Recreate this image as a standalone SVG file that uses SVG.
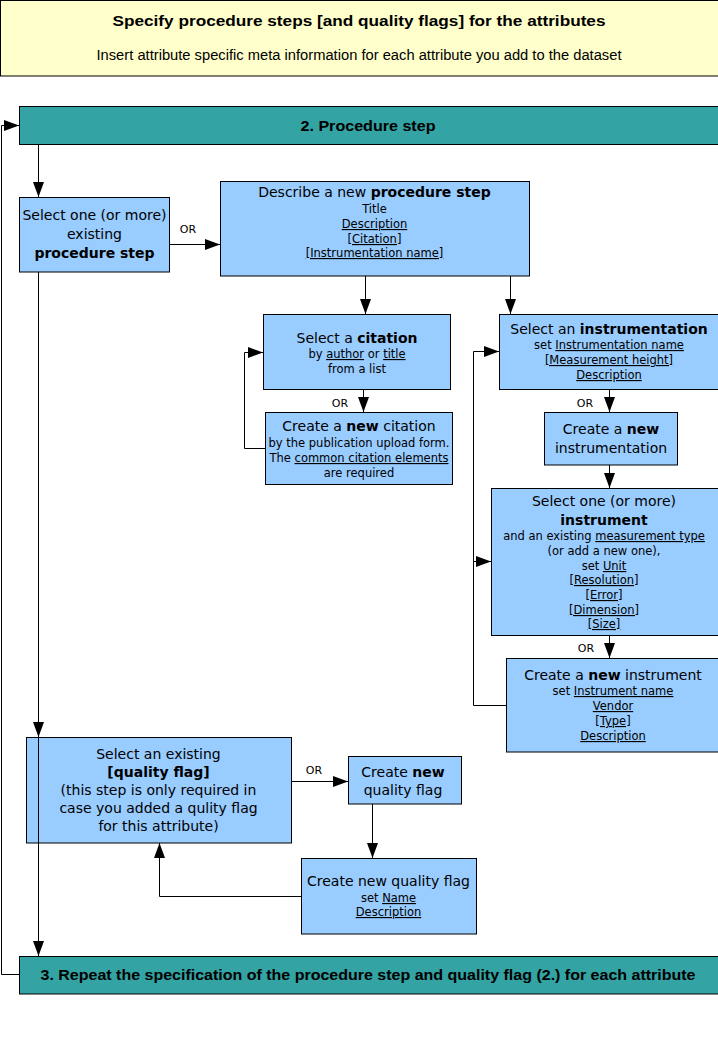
<svg xmlns="http://www.w3.org/2000/svg" width="718" height="1047" viewBox="0 0 718 1047">
<style>
.box{fill:#99ccff;stroke:#000;stroke-width:1}
.bar{fill:#33a3a3;stroke:#000;stroke-width:1}
.hdr{fill:#ffffcc;stroke:#000;stroke-width:1}
text{font-family:"DejaVu Sans",Verdana,sans-serif;fill:#000;text-anchor:middle}
.t{font-size:14px}
.s{font-size:11.5px}
.or{font-size:11px}
.b{font-weight:bold}
.u{text-decoration:underline}
.lib{font-family:"Liberation Sans",Arial,sans-serif}
.con{fill:none;stroke:#000;stroke-width:1}
</style>
<defs>
<marker id="ah" markerUnits="userSpaceOnUse" markerWidth="16" markerHeight="12" refX="15" refY="5.5" orient="auto">
<path d="M0,0 L15,5.5 L0,11 z" fill="#000"/>
</marker>
</defs>
<rect width="718" height="1047" fill="#fff"/>
<g id="header">
<rect class="hdr" x="0.5" y="0.5" width="720" height="75.5"/>
<text class="lib b" x="359" y="26" font-size="15.5" textLength="493" lengthAdjust="spacingAndGlyphs">Specify procedure steps [and quality flags] for the attributes</text>
<text class="lib" x="359" y="60" font-size="14" textLength="525" lengthAdjust="spacingAndGlyphs">Insert attribute specific meta information for each attribute you add to the dataset</text>
</g>
<g id="bar2">
<rect class="bar" x="19.5" y="106.5" width="702" height="38"/>
<text class="lib b" x="368" y="131" font-size="15.5" textLength="135" lengthAdjust="spacingAndGlyphs">2. Procedure step</text>
</g>
<g id="bar3">
<rect class="bar" x="19.5" y="956.5" width="702" height="37.5"/>
<text class="lib b" x="368" y="980" font-size="15.5" textLength="655" lengthAdjust="spacingAndGlyphs">3. Repeat the specification of the procedure step and quality flag (2.) for each attribute</text>
</g>
<g id="select-existing-step">
<rect class="box" x="19.5" y="197.5" width="150" height="74.5"/>
<text class="t" x="94.5" y="220">Select one (or more)</text>
<text class="t" x="94.5" y="239">existing</text>
<text class="t b" x="94.5" y="258">procedure step</text>
</g>
<g id="describe-step">
<rect class="box" x="220.5" y="181.5" width="309" height="94.5"/>
<text class="t" x="374.5" y="197">Describe a new <tspan class="b">procedure step</tspan></text>
<text class="s" x="374.5" y="213">Title</text>
<text class="s" x="374.5" y="228"><tspan class="u">Description</tspan></text>
<text class="s" x="374.5" y="243"><tspan class="u">[Citation]</tspan></text>
<text class="s" x="374.5" y="257"><tspan class="u">[Instrumentation name]</tspan></text>
</g>
<g id="select-citation">
<rect class="box" x="263.5" y="314.5" width="187" height="75"/>
<text class="t" x="357" y="343">Select a <tspan class="b">citation</tspan></text>
<text class="s" x="357" y="358">by <tspan class="u">author</tspan> or <tspan class="u">title</tspan></text>
<text class="s" x="357" y="373">from a list</text>
</g>
<g id="new-citation">
<rect class="box" x="265.5" y="412.5" width="187" height="72"/>
<text class="t" x="359" y="431">Create a <tspan class="b">new</tspan> citation</text>
<text class="s" x="359" y="447">by the publication upload form.</text>
<text class="s" x="359" y="462">The <tspan class="u">common citation elements</tspan></text>
<text class="s" x="359" y="477">are required</text>
</g>
<g id="select-instrumentation">
<rect class="box" x="499.5" y="314.5" width="222" height="75"/>
<text class="t" x="609" y="334">Select an <tspan class="b">instrumentation</tspan></text>
<text class="s" x="609" y="349">set <tspan class="u">Instrumentation name</tspan></text>
<text class="s" x="609" y="364"><tspan class="u">[Measurement height]</tspan></text>
<text class="s" x="609" y="379"><tspan class="u">Description</tspan></text>
</g>
<g id="new-instrumentation">
<rect class="box" x="544.5" y="412.5" width="133" height="52.5"/>
<text class="t" x="611" y="434">Create a <tspan class="b">new</tspan></text>
<text class="t" x="611" y="453">instrumentation</text>
</g>
<g id="select-instrument">
<rect class="box" x="491.5" y="488.5" width="230" height="147"/>
<text class="t" x="604" y="506">Select one (or more)</text>
<text class="t b" x="604" y="525">instrument</text>
<text class="s" x="604" y="540">and an existing <tspan class="u">measurement type</tspan></text>
<text class="s" x="604" y="555">(or add a new one),</text>
<text class="s" x="604" y="570">set <tspan class="u">Unit</tspan></text>
<text class="s" x="604" y="584"><tspan class="u">[Resolution]</tspan></text>
<text class="s" x="604" y="599"><tspan class="u">[Error]</tspan></text>
<text class="s" x="604" y="614"><tspan class="u">[Dimension]</tspan></text>
<text class="s" x="604" y="628"><tspan class="u">[Size]</tspan></text>
</g>
<g id="new-instrument">
<rect class="box" x="506.5" y="658.5" width="215" height="93.5"/>
<text class="t" x="613" y="680">Create a <tspan class="b">new</tspan> instrument</text>
<text class="s" x="613" y="695">set <tspan class="u">Instrument name</tspan></text>
<text class="s" x="613" y="710"><tspan class="u">Vendor</tspan></text>
<text class="s" x="613" y="725"><tspan class="u">[Type]</tspan></text>
<text class="s" x="613" y="740"><tspan class="u">Description</tspan></text>
</g>
<g id="select-quality-flag">
<rect class="box" x="26.5" y="737.5" width="265" height="105.5"/>
<text class="t" x="158.5" y="759">Select an existing</text>
<text class="t b" x="158.5" y="777">[quality flag]</text>
<text class="t" x="158.5" y="795">(this step is only required in</text>
<text class="t" x="158.5" y="813">case you added a qulity flag</text>
<text class="t" x="158.5" y="831">for this attribute)</text>
</g>
<g id="create-quality-flag">
<rect class="box" x="348.5" y="756.5" width="113" height="47.5"/>
<text class="t" x="403" y="777">Create <tspan class="b">new</tspan></text>
<text class="t" x="403" y="795">quality flag</text>
</g>
<g id="new-quality-flag">
<rect class="box" x="301.5" y="858.5" width="175" height="75.5"/>
<text class="t" x="388.5" y="886">Create new quality flag</text>
<text class="s" x="388.5" y="902">set <tspan class="u">Name</tspan></text>
<text class="s" x="388.5" y="916"><tspan class="u">Description</tspan></text>
</g>
<g id="connectors">
<polyline class="con" points="19,974.5 1.5,974.5 1.5,125.5 19,125.5" marker-end="url(#ah)"/>
<line class="con" x1="38.5" y1="144" x2="38.5" y2="197" marker-end="url(#ah)"/>
<line class="con" x1="38.5" y1="272" x2="38.5" y2="737" marker-end="url(#ah)"/>
<line class="con" x1="38.5" y1="737" x2="38.5" y2="956" marker-end="url(#ah)"/>
<line class="con" x1="170" y1="244.5" x2="220" y2="244.5" marker-end="url(#ah)"/>
<line class="con" x1="365.5" y1="276" x2="365.5" y2="314" marker-end="url(#ah)"/>
<line class="con" x1="510.5" y1="276" x2="510.5" y2="314" marker-end="url(#ah)"/>
<line class="con" x1="363.5" y1="389" x2="363.5" y2="412" marker-end="url(#ah)"/>
<polyline class="con" points="265,448.5 244.5,448.5 244.5,352.5 263,352.5" marker-end="url(#ah)"/>
<line class="con" x1="609.5" y1="389" x2="609.5" y2="412" marker-end="url(#ah)"/>
<line class="con" x1="609.5" y1="465" x2="609.5" y2="488" marker-end="url(#ah)"/>
<line class="con" x1="609.5" y1="635" x2="609.5" y2="658" marker-end="url(#ah)"/>
<polyline class="con" points="506,705.5 473.5,705.5 473.5,351.5 499,351.5" marker-end="url(#ah)"/>
<line class="con" x1="473.5" y1="561.5" x2="491" y2="561.5" marker-end="url(#ah)"/>
<line class="con" x1="291" y1="781.5" x2="348" y2="781.5" marker-end="url(#ah)"/>
<line class="con" x1="372.5" y1="804" x2="372.5" y2="858" marker-end="url(#ah)"/>
<polyline class="con" points="301,896.5 159.5,896.5 159.5,843" marker-end="url(#ah)"/>
<text class="or" x="188" y="233">OR</text>
<text class="or" x="340" y="407">OR</text>
<text class="or" x="585" y="407">OR</text>
<text class="or" x="586" y="652">OR</text>
<text class="or" x="314" y="774">OR</text>
</g>
</svg>
